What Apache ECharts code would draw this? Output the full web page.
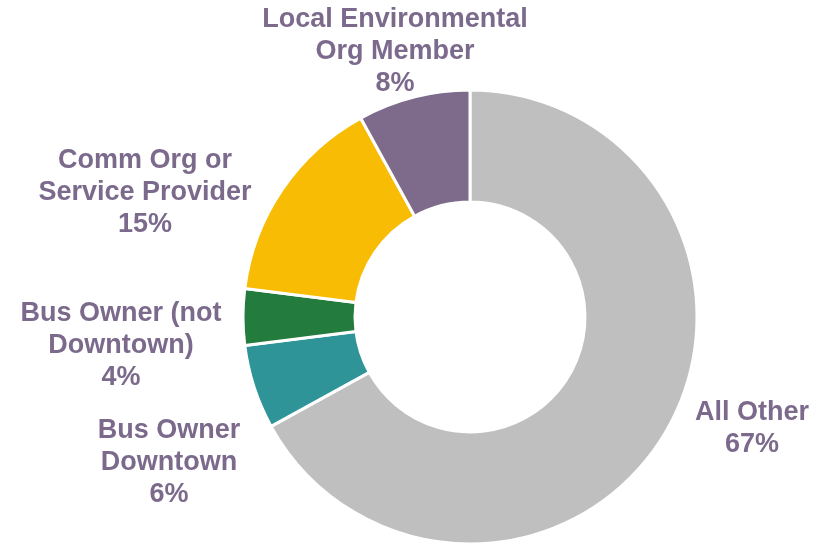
<!DOCTYPE html>
<html>
<head>
<meta charset="utf-8">
<script src="https://cdn.jsdelivr.net/npm/echarts@6/dist/echarts.min.js"></script>
<style>
  html, body { margin: 0; padding: 0; background: #ffffff; }
  #chart { width: 818px; height: 546px; }
</style>
</head>
<body>
<div id="chart"></div>
<script>
  // slices in clockwise order from 12 o'clock
  const categories = [
    "All Other",
    "Bus Owner\nDowntown",
    "Bus Owner (not\nDowntown)",
    "Comm Org or\nService Provider",
    "Local Environmental\nOrg Member",
  ];
  const shares = [67, 6, 4, 15, 8];
  const sliceColors = ["#bfbfbf", "#2e9498", "#237b3e", "#f9bc05", "#7e6b8b"];

  // label block centres (layout only)
  const labelPos = [
    [752, 429],
    [169, 463],
    [121, 346],
    [145, 193],
    [395, 52],
  ];

  const chart = echarts.init(document.getElementById("chart"), null, { renderer: "canvas" });

  chart.setOption({
    animation: false,
    series: [
      {
        type: "pie",
        center: [470, 317],
        radius: [115, 227],
        startAngle: 90,
        clockwise: true,
        avoidLabelOverlap: false,
        itemStyle: { borderColor: "#ffffff", borderWidth: 3 },
        label: {
          show: true,
          position: "outside",
          formatter: "{b}\n{c}%",
          color: "#7b6a8c",
          fontFamily: "'Liberation Sans', Arial, sans-serif",
          fontWeight: "bold",
          fontSize: 27,
          lineHeight: 32,
          align: "center",
        },
        labelLine: { show: false },
        labelLayout: (params) => ({
          x: labelPos[params.dataIndex][0],
          y: labelPos[params.dataIndex][1],
          align: "center",
          verticalAlign: "middle",
        }),
        emphasis: { disabled: true },
        data: categories.map((name, i) => ({
          name,
          value: shares[i],
          itemStyle: { color: sliceColors[i] },
        })),
      },
    ],
  });
</script>
</body>
</html>
